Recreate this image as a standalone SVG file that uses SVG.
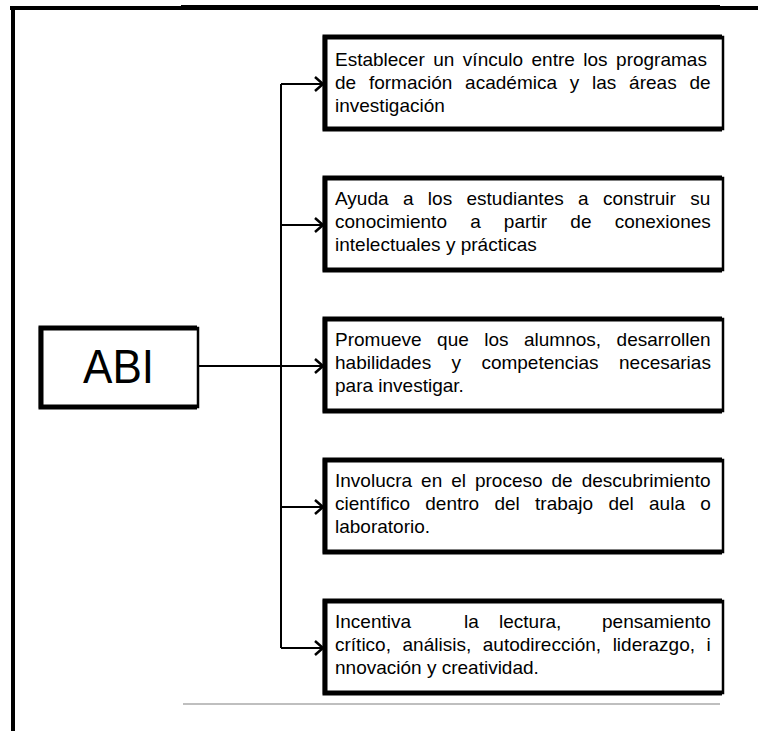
<svg xmlns="http://www.w3.org/2000/svg" width="758" height="731" viewBox="0 0 758 731">
<defs>
<style>
.t{font-family:"Liberation Sans",Arial,sans-serif;font-size:19px;fill:#000}
.box{fill:#fff;stroke:#000;stroke-width:2.5}
.thick{fill:none;stroke:#000;stroke-width:5;stroke-linejoin:miter}
.conn{fill:none;stroke:#000;stroke-width:2}
</style>
<marker id="arr" markerWidth="12" markerHeight="16" refX="10" refY="8" orient="auto" markerUnits="userSpaceOnUse">
<path d="M2,1 L10,8 L2,15" fill="none" stroke="#000" stroke-width="2.5"/>
</marker>
</defs>
<rect width="758" height="731" fill="#fff"/>
<g id="frame">
<rect x="10" y="6" width="748" height="4" fill="#000"/>
<rect x="181" y="5" width="539" height="5" fill="#000"/>
<rect x="11" y="6" width="4" height="725" fill="#000"/>
<line x1="183" y1="704" x2="720" y2="704" stroke="#aaa" stroke-width="1.5"/>
</g>
<g id="connectors">
<line class="conn" x1="281" y1="84" x2="281" y2="648" stroke-width="1.5"/>
<line class="conn" x1="198" y1="366" x2="323" y2="366" marker-end="url(#arr)"/>
<polyline class="conn" points="281,84 323,84" marker-end="url(#arr)"/>
<polyline class="conn" points="281,225 323,225" marker-end="url(#arr)"/>
<polyline class="conn" points="281,507 323,507" marker-end="url(#arr)"/>
<polyline class="conn" points="281,648 323,648" marker-end="url(#arr)"/>
</g>
<g id="abi">
<rect class="box" x="40" y="328" width="158" height="79"/>
<path class="thick" d="M197,328 H41 V407 H197"/>
<text x="83" y="383" font-family="Liberation Sans,Arial,sans-serif" font-size="48" textLength="71" lengthAdjust="spacingAndGlyphs">ABI</text>
</g>
<g id="n1">
<rect class="box" x="324" y="37" width="399" height="92"/>
<path class="thick" d="M722,37 H325 V129 H722"/>
<text class="t" x="335" y="66" word-spacing="3.2">Establecer un vínculo entre los programas</text>
<text class="t" x="335" y="89" word-spacing="7.5">de formación académica y las áreas de</text>
<text class="t" x="335" y="112">investigación</text>
</g>
<g id="n2">
<rect class="box" x="324" y="178" width="399" height="92"/>
<path class="thick" d="M722,178 H325 V270 H722"/>
<text class="t" x="335" y="205" word-spacing="9.1">Ayuda a los estudiantes a construir su</text>
<text class="t" x="335" y="228" word-spacing="17.9">conocimiento a partir de conexiones</text>
<text class="t" x="335" y="251">intelectuales y prácticas</text>
</g>
<g id="n3">
<rect class="box" x="324" y="319" width="399" height="92"/>
<path class="thick" d="M722,319 H325 V411 H722"/>
<text class="t" x="335" y="346" word-spacing="10.2">Promueve que los alumnos, desarrollen</text>
<text class="t" x="335" y="369" word-spacing="15.1">habilidades y competencias necesarias</text>
<text class="t" x="335" y="392">para investigar.</text>
</g>
<g id="n4">
<rect class="box" x="324" y="460" width="399" height="92"/>
<path class="thick" d="M722,460 H325 V552 H722"/>
<text class="t" x="335" y="487" word-spacing="3.7">Involucra en el proceso de descubrimiento</text>
<text class="t" x="335" y="510" word-spacing="10">científico dentro del trabajo del aula o</text>
<text class="t" x="335" y="533">laboratorio.</text>
</g>
<g id="n5">
<rect class="box" x="324" y="601" width="399" height="92"/>
<path class="thick" d="M722,601 H325 V693 H722"/>
<text class="t" y="628"><tspan x="335">Incentiva</tspan><tspan x="464">la</tspan><tspan x="499">lectura,</tspan><tspan x="602">pensamiento</tspan></text>
<text class="t" x="335" y="651" word-spacing="6.3">crítico, análisis, autodirección, liderazgo, i</text>
<text class="t" x="335" y="674">nnovación y creatividad.</text>
</g>
</svg>
